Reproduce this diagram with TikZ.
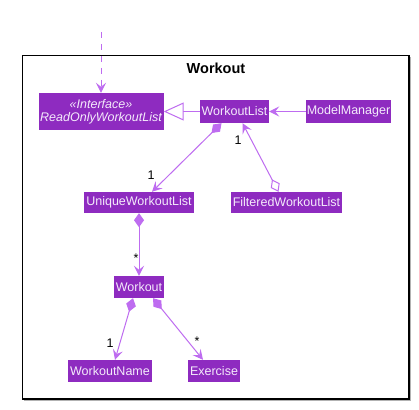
\documentclass[tikz,border=0pt]{standalone}
\usepackage{fontspec}
\setmainfont{Liberation Sans}
\usetikzlibrary{arrows.meta}

\definecolor{boxfill}{HTML}{8E2BC0}
\definecolor{boxtext}{HTML}{F4EAFB}
\definecolor{linecol}{HTML}{BE6CF0}

\tikzset{
  cls/.style={fill=boxfill, text=boxtext, inner sep=0pt, font=\fontsize{12.5}{14}\selectfont},
  conn/.style={draw=linecol, line width=1pt},
  tip/.tip={Stealth[length=10pt, width=10pt, inset=4pt, fill=linecol]},
  comp/.style={conn, {Diamond[length=14pt, width=10pt, fill=linecol]}-tip},
  agg/.style={conn, {Diamond[open, length=14pt, width=10pt, fill=white]}-tip},
  mult/.style={font=\fontsize{12.5}{14}\selectfont, inner sep=0pt}
}

\begin{document}
\begin{tikzpicture}[x=1pt, y=-1pt]
\useasboundingbox (0,0) rectangle (419,409);

% package frame with shadow
\fill[gray!60] (24,57) rectangle (411,401);
\draw[fill=white, line width=1.2pt] (22.5,55.5) rectangle (409,399);
\node (title) at (216,68) {\fontsize{14.5}{16}\selectfont\bfseries Workout};

\node[cls, minimum width=125pt, minimum height=37pt, align=center] (iface) at (101,111.5)
  {\itshape «Interface»\\[-1pt]\itshape ReadOnlyWorkoutList};
\node[cls, minimum width=69pt, minimum height=23pt] (wlist) at (234.5,111.5) {WorkoutList};
\node[cls, minimum width=85pt, minimum height=23pt] (mm) at (348.5,111.5) {ModelManager};
\node[cls, minimum width=110pt, minimum height=21pt] (uwl) at (139,202.5) {UniqueWorkoutList};
\node[cls, minimum width=111pt, minimum height=21pt] (fwl) at (286.5,202.5) {FilteredWorkoutList};
\node[cls, minimum width=50pt, minimum height=22pt] (wo) at (139,287) {Workout};
\node[cls, minimum width=84pt, minimum height=22pt] (wn) at (110,371) {WorkoutName};
\node[cls, minimum width=52pt, minimum height=22pt] (ex) at (214,371) {Exercise};

\coordinate (top) at (101,32);
\draw[conn, dash pattern=on 6pt off 6pt, -tip] (top) -- (iface.north);

\draw[conn, -{Triangle[open, length=20pt, width=18pt, fill=white]}] (wlist.west) -- (iface.east);
\draw[conn, -tip] (mm.west) -- (wlist.east);

\draw[comp] ([xshift=-13pt]wlist.south) -- ([xshift=13pt]uwl.north);
\draw[agg] ([xshift=-8pt]fwl.north) -- ([xshift=8pt]wlist.south);
\draw[comp] (uwl.south) -- (wo.north);
\draw[comp] ([xshift=-6pt]wo.south) -- ([xshift=5pt]wn.north);
\draw[comp] ([xshift=14pt]wo.south) -- ([xshift=-11pt]ex.north);

\node[mult] (m1) at (151,175) {1};
\node[mult] (m2) at (238,140) {1};
\node[mult] (m3) at (136,258) {*};
\node[mult] (m4) at (110,343) {1};
\node[mult] (m5) at (197,341) {*};

\end{tikzpicture}
\end{document}
